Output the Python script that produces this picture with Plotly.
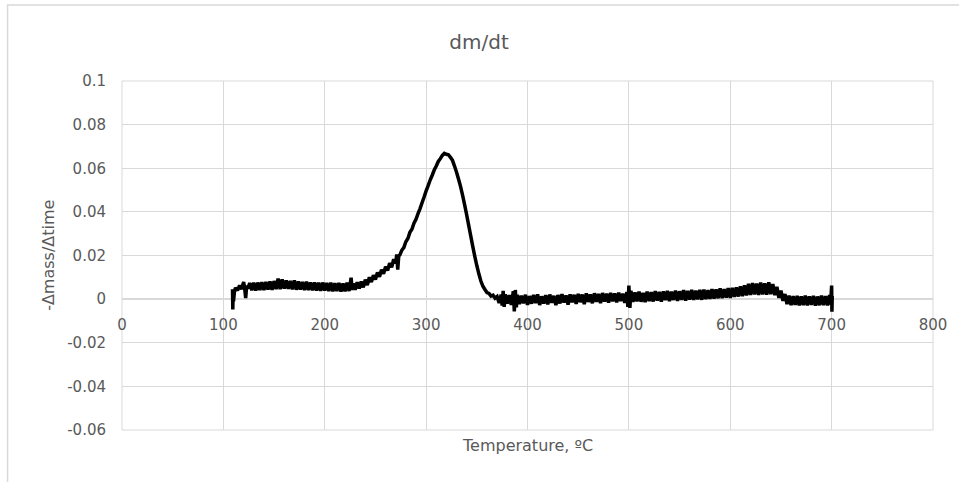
import plotly.graph_objects as go

# ---------------- data ----------------
# values of -dmass/dtime are given in units of 1e-3 (milli) and converted below
seg1_temp = [109, 109.3, 109.6, 110, 111, 112, 114, 116, 118, 120, 121, 122, 123, 124,
             126, 128, 130, 132, 134, 136, 138, 140, 142, 144,
             146, 148, 150, 152, 154, 156, 158, 160, 162, 164,
             166, 168, 170, 172, 174, 176, 178, 180, 182, 184,
             186, 188, 190, 192, 194, 196, 198, 200, 202, 204,
             206, 208, 210, 212, 214, 216, 218, 220, 222, 224,
             226, 227, 228, 230, 232, 234, 236, 238]
seg1_milli = [4.5, -4.7, 3.5, -1.0, 3.8, 5.2, 4.0, 6.3, 4.6, 7.8, 5.0, 0.5, 6.2, 4.8,
              7.4, 4.1, 7.5, 3.9, 7.6, 4.2, 7.8, 4.2, 7.9, 4.4,
              8.1, 4.3, 8.3, 4.6, 9.4, 4.6, 9.1, 4.8, 8.6, 4.7,
              8.4, 4.5, 8.6, 4.3, 8.1, 4.4, 7.9, 4.1, 8.0, 4.2,
              7.6, 4.0, 7.7, 3.9, 7.5, 3.8, 7.6, 3.9, 7.4, 3.7,
              7.5, 3.6, 7.3, 3.7, 7.4, 3.5, 7.2, 3.6, 7.5, 3.7,
              9.8, 4.2, 7.2, 4.3, 7.7, 4.9, 8.1, 5.4]

seg2_temp = [240, 242, 244, 246, 248, 250, 252, 254, 256, 258, 260, 262, 264, 266, 268, 270,
             271, 272, 273, 274,
             276, 278, 280, 282, 284, 286, 288, 290, 292, 294,
             296, 298, 300, 302, 304, 306, 308, 310, 312, 314,
             316, 318, 320, 322, 324, 326, 328, 330, 332, 334,
             336, 338, 340, 342, 344, 346, 348, 350, 352, 354,
             356, 358, 360, 362, 364, 366, 368, 370]
seg2_milli = [8.9, 6.4, 10.0, 7.8, 11.0, 9.0, 12.2, 10.3, 13.5, 11.6, 14.9, 13.1, 16.5, 14.6, 18.3, 16.4,
              20.5, 13.5, 19.8, 20.2,
              22.4, 23.6, 26.3, 27.8, 30.6, 32.0, 34.8, 36.6, 39.2, 41.5,
              44.2, 46.8, 49.6, 52.0, 54.6, 56.8, 59.2, 61.0, 63.1, 64.4,
              65.9, 66.8, 66.4, 66.2, 65.0, 63.6, 61.0, 58.2, 55.0, 51.6,
              47.6, 43.2, 38.6, 33.8, 29.0, 24.2, 19.6, 15.4, 11.6, 8.3,
              5.9, 4.4, 3.0, 2.6, 1.4, 1.8, 0.4, 1.2]

seg3_temp = [372, 374, 375, 376, 377, 378, 380, 382, 384, 386, 387, 388, 389, 390,
             392, 394, 396, 398, 400, 402, 404, 406, 408, 410,
             412, 414, 416, 418, 420, 422, 424, 426, 428, 430,
             432, 434, 436, 438, 440, 442, 444, 446, 448, 450,
             452, 454, 456, 458, 460, 462, 464, 466, 468, 470,
             472, 474, 476, 478, 480, 482, 484, 486, 488, 490,
             492, 494, 496, 498]
seg3_milli = [-1.8, 2.0, -3.0, 3.8, -3.6, 2.2, -2.1, 1.8, -2.6, 3.6, -5.6, 4.2, -3.8, 1.9,
              -2.3, 1.6, -1.9, 2.0, -2.6, 1.4, -2.1, 1.9, -1.8, 2.2,
              -2.7, 1.3, -2.0, 1.8, -2.4, 2.1, -1.7, 1.5, -2.8, 1.9,
              -2.0, 2.3, -1.6, 1.7, -2.5, 2.2, -1.5, 2.0, -2.2, 2.4,
              -1.4, 2.1, -2.3, 2.6, -1.3, 2.2, -1.9, 2.7, -1.2, 2.4,
              -1.8, 2.8, -1.1, 2.5, -1.6, 2.9, -1.0, 2.6, -1.5, 3.0,
              -0.9, 2.5, -1.7, 3.2]

seg4_temp = [499, 500, 501, 502,
             504, 506, 508, 510, 512, 514, 516, 518, 520, 522,
             524, 526, 528, 530, 532, 534, 536, 538, 540, 542,
             544, 546, 548, 550, 552, 554, 556, 558, 560, 562,
             564, 566, 568, 570, 572, 574, 576, 578, 580, 582,
             584, 586, 588, 590, 592, 594, 596, 598, 600, 602,
             604, 606, 608, 610, 612, 614, 616, 618, 620, 622,
             624, 626, 628, 630, 632, 634, 636, 638, 640, 642,
             644, 646, 648, 650, 652, 654, 656, 658, 660, 662,
             664, 666, 668, 670, 672, 674, 676, 678, 680, 682,
             684, 686, 688, 690, 692, 694, 696, 698,
             699, 700, 700.3, 700.6]
seg4_milli = [-3.6, 6.2, -4.0, 3.8,
              -1.3, 3.1, -1.0, 3.4, -1.2, 2.9, -1.4, 3.5, -0.9, 3.2,
              -1.1, 3.7, -0.7, 3.3, -1.2, 3.6, -0.5, 3.8, -0.9, 3.4,
              -0.4, 3.9, -0.8, 3.6, -0.3, 4.1, -0.7, 3.8, -0.2, 4.2,
              -0.4, 3.9, -0.1, 4.3, -0.3, 4.4, 0.0, 4.1, 0.1, 4.6,
              0.2, 4.5, 0.4, 4.9, 0.5, 4.6, 0.7, 5.1, 0.6, 5.2,
              1.0, 5.4, 1.2, 5.8, 1.4, 6.3, 1.7, 7.0, 1.9, 7.4,
              2.1, 7.1, 1.9, 7.6, 2.2, 7.3, 2.0, 7.7, 2.3, 6.9,
              1.8, 5.6, 0.6, 3.9, -0.8, 2.3, -2.3, 1.6, -2.8, 1.4,
              -2.6, 1.5, -2.9, 1.2, -2.7, 1.6, -2.9, 1.3, -2.6, 1.5,
              -3.0, 1.2, -2.8, 1.6, -2.7, 1.4, -2.9, 1.8,
              -2.5, 6.2, -5.8, 1.5]

x_ticks = [0, 100, 200, 300, 400, 500, 600, 700, 800]
x_tick_labels = ["0", "100", "200", "300", "400", "500", "600", "700", "800"]
y_ticks = [-0.06, -0.04, -0.02, 0, 0.02, 0.04, 0.06, 0.08, 0.1]
y_tick_labels = ["-0.06", "-0.04", "-0.02", "0", "0.02", "0.04", "0.06", "0.08", "0.1"]

title_text = "dm/dt"
x_title = "Temperature, ºC"
y_title = "-Δmass/Δtime"

x_min, x_max = 0, 800
y_min, y_max = -0.06, 0.1

# ---------------- figure ----------------
temperature = seg1_temp + seg2_temp + seg3_temp + seg4_temp
dmdt = [v / 1000.0 for v in (seg1_milli + seg2_milli + seg3_milli + seg4_milli)]

GRID = "#d9d9d9"
TEXT = "#595959"
FONT = "DejaVu Sans"

fig = go.Figure()
fig.add_trace(go.Scatter(
    x=temperature, y=dmdt, mode="lines",
    line=dict(color="#000000", width=3.5, simplify=False),
    hoverinfo="x+y", showlegend=False,
))

zero_frac = (0 - y_min) / (y_max - y_min)

fig.update_layout(
    width=959, height=482,
    margin=dict(l=122, r=22, t=81, b=52),
    paper_bgcolor="white", plot_bgcolor="white",
    font=dict(family=FONT, color=TEXT, size=15),
    showlegend=False,
    title=dict(text=title_text, xref="container", x=479 / 959, xanchor="center",
               yref="container", y=1 - 42 / 482, yanchor="middle",
               font=dict(family=FONT, size=20, color=TEXT)),
    xaxis=dict(range=[x_min, x_max], tickvals=x_ticks, ticktext=x_tick_labels,
               showgrid=True, gridcolor=GRID, gridwidth=1, zeroline=False,
               showline=False, ticks="", anchor="free", position=zero_frac,
               tickfont=dict(family=FONT, size=15, color=TEXT), ticklabelstandoff=15),
    yaxis=dict(range=[y_min, y_max], tickvals=y_ticks, ticktext=y_tick_labels,
               showgrid=True, gridcolor=GRID, gridwidth=1, zeroline=True,
               zerolinecolor=GRID, zerolinewidth=1.5, showline=False, ticks="",
               tickfont=dict(family=FONT, size=15, color=TEXT), ticklabelstandoff=15),
)

# plot frame
fig.add_shape(type="rect", xref="paper", yref="paper", x0=0, x1=1, y0=0, y1=1,
              line=dict(color=GRID, width=1), layer="below")
# chart border (outer frame, partially outside the visible window)
fig.add_shape(type="rect", xref="paper", yref="paper",
              x0=(7 - 122) / 815, x1=(966 - 122) / 815,
              y0=(430 - 492) / 349, y1=(430 - 5) / 349,
              line=dict(color=GRID, width=1.5))

fig.add_annotation(text=x_title, xref="paper", yref="paper", x=0.5, y=(430 - 446) / 349,
                   xanchor="center", yanchor="middle", showarrow=False,
                   font=dict(family=FONT, size=16, color=TEXT))
fig.add_annotation(text=y_title, xref="paper", yref="paper", x=(48 - 122) / 815, y=0.5,
                   xanchor="center", yanchor="middle", textangle=-90, showarrow=False,
                   font=dict(family=FONT, size=16, color=TEXT))

fig.write_html("out.html", config={"displayModeBar": False},
               post_script="document.body.style.margin='0';")
